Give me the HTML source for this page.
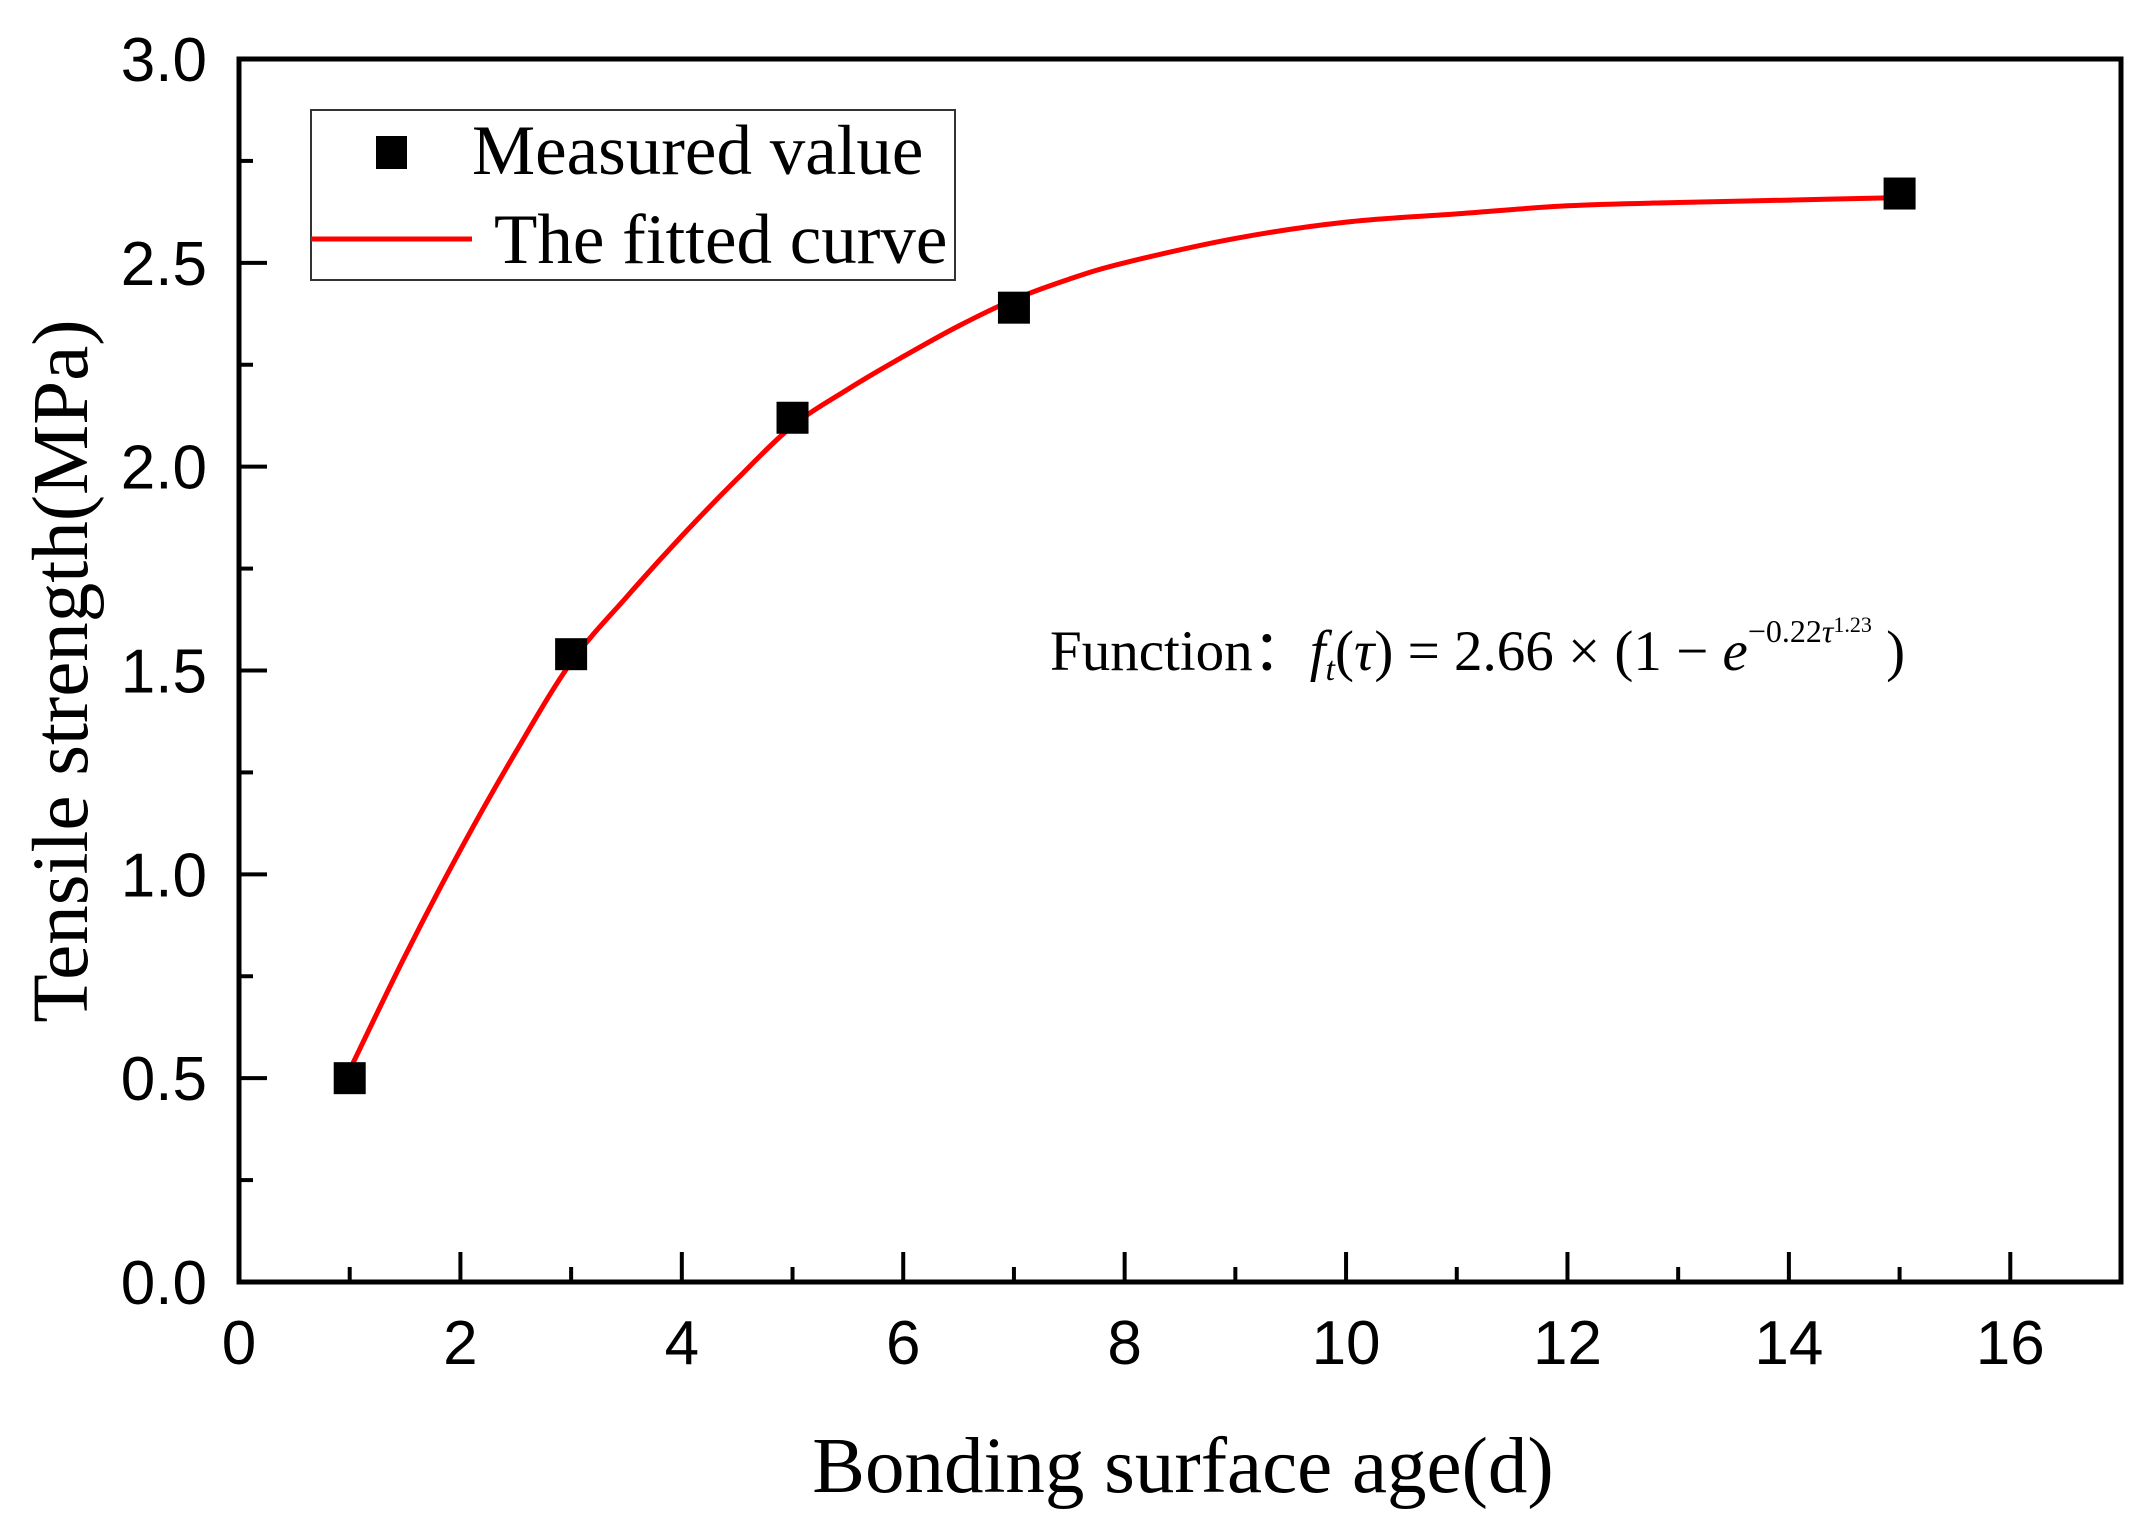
<!DOCTYPE html>
<html><head><meta charset="utf-8"><style>
html,body{margin:0;padding:0;background:#fff;}
svg{display:block;}
</style></head><body>
<svg id="chart" width="2152" height="1528" viewBox="0 0 2152 1528" xmlns="http://www.w3.org/2000/svg">
<g id="plot"></g>
</svg>
<script>
const measuredX = [1, 3, 5, 7, 15];
const measuredY = [0.50, 1.54, 2.12, 2.39, 2.67];
const curveX = [1, 1.5, 2, 2.5, 3, 3.5, 4, 4.5, 5, 5.5, 6, 6.5, 7, 7.5, 8, 9, 10, 11, 12, 13, 14, 15];
const curveY = [0.52, 0.80, 1.06, 1.30, 1.52, 1.68, 1.83, 1.97, 2.10, 2.19, 2.27, 2.345, 2.41, 2.46, 2.50, 2.56, 2.60, 2.62, 2.64, 2.648, 2.654, 2.66];
const xTicks = [0, 2, 4, 6, 8, 10, 12, 14, 16];
const xTickLabels = ["0", "2", "4", "6", "8", "10", "12", "14", "16"];
const yTicks = [0, 0.5, 1.0, 1.5, 2.0, 2.5, 3.0];
const yTickLabels = ["0.0", "0.5", "1.0", "1.5", "2.0", "2.5", "3.0"];

const L = 239, R = 2121, T = 59, B = 1282;
const xMin = 0, xMax = 17, yMin = 0, yMax = 3;
const sx = v => L + (v - xMin) / (xMax - xMin) * (R - L);
const sy = v => B - (v - yMin) / (yMax - yMin) * (B - T);
const NS = "http://www.w3.org/2000/svg";
const g = document.getElementById('plot');
function mk(tag, attrs, parent) {
  const e = document.createElementNS(NS, tag);
  for (const k in attrs) e.setAttribute(k, attrs[k]);
  (parent || g).appendChild(e);
  return e;
}

const frame = mk('rect', {x: L, y: T, width: R - L, height: B - T, fill: 'none', stroke: '#000', 'stroke-width': 5});



for (let v = 1; v <= 16; v++) {
  const major = v % 2 === 0;
  const t = mk('line', {x1: sx(v), x2: sx(v), y1: B, y2: B - (major ? 30 : 15), stroke: '#000', 'stroke-width': 4});
  
  
}
xTicks.forEach((v, i) => {
  const t = mk('text', {x: sx(v), y: 1364, 'text-anchor': 'middle', 'font-family': 'Liberation Sans, sans-serif', 'font-size': 62, fill: '#000'});
  t.textContent = xTickLabels[i];
  
  
});
for (let k = 1; k < 12; k++) {
  const v = k * 0.25;
  const major = k % 2 === 0;
  const t = mk('line', {x1: L, x2: L + (major ? 28 : 14), y1: sy(v), y2: sy(v), stroke: '#000', 'stroke-width': 4});
  
  
}
yTicks.forEach((v, i) => {
  const t = mk('text', {x: 207, y: sy(v) + 22, 'text-anchor': 'end', 'font-family': 'Liberation Sans, sans-serif', 'font-size': 62, fill: '#000'});
  t.textContent = yTickLabels[i];
  
  
});

// smooth curve (Catmull-Rom)
const P = curveX.map((x, i) => [sx(x), sy(curveY[i])]);
let d = 'M' + P[0][0].toFixed(1) + ',' + P[0][1].toFixed(1);
for (let i = 0; i < P.length - 1; i++) {
  const p0 = P[Math.max(0, i - 1)], p1 = P[i], p2 = P[i + 1], p3 = P[Math.min(P.length - 1, i + 2)];
  const c1 = [p1[0] + (p2[0] - p0[0]) / 6, p1[1] + (p2[1] - p0[1]) / 6];
  const c2 = [p2[0] - (p3[0] - p1[0]) / 6, p2[1] - (p3[1] - p1[1]) / 6];
  d += ' C' + c1.map(n => n.toFixed(1)).join(',') + ' ' + c2.map(n => n.toFixed(1)).join(',') + ' ' + p2.map(n => n.toFixed(1)).join(',');
}
const curve = mk('path', {d: d, fill: 'none', stroke: '#ff0000', 'stroke-width': 5, 'stroke-linejoin': 'round'});



measuredX.forEach((x, i) => {
  const m = mk('rect', {x: sx(x) - 16, y: sy(measuredY[i]) - 16, width: 32, height: 32, fill: '#000'});
  
  
});

const lg = mk('g', {});


mk('rect', {x: 311, y: 110, width: 644, height: 170, fill: '#fff', stroke: '#333', 'stroke-width': 2}, lg);
mk('rect', {x: 376, y: 136, width: 31, height: 33, fill: '#000'}, lg);
mk('line', {x1: 311, x2: 472, y1: 239, y2: 239, stroke: '#ff0000', 'stroke-width': 5}, lg);
const l1 = mk('text', {x: 472, y: 174, 'font-family': 'Liberation Serif, serif', 'font-size': 71, fill: '#000'}, lg);
l1.textContent = 'Measured value';


const l2 = mk('text', {x: 494, y: 263, 'font-family': 'Liberation Serif, serif', 'font-size': 71, fill: '#000'}, lg);
l2.textContent = 'The fitted curve';



const fn = mk('text', {x: 1050, y: 670, 'font-family': 'Liberation Serif, serif', 'font-size': 57, fill: '#000'});


fn.innerHTML = 'Function：<tspan font-style="italic">f</tspan><tspan font-style="italic" font-size="34" dy="10">t</tspan><tspan dy="-10">(</tspan><tspan font-style="italic">τ</tspan>) = 2.66 × (1 − <tspan font-style="italic">e</tspan><tspan font-size="32" dy="-28">−0.22<tspan font-style="italic">τ</tspan></tspan><tspan font-size="22" dy="-10">1.23</tspan><tspan dy="38">  )</tspan>';

const xt = mk('text', {x: 1183, y: 1492, 'text-anchor': 'middle', 'font-family': 'Liberation Serif, serif', 'font-size': 79, fill: '#000'});
xt.textContent = 'Bonding surface age(d)';


const yt = mk('text', {x: 0, y: 0, 'text-anchor': 'middle', 'font-family': 'Liberation Serif, serif', 'font-size': 79, fill: '#000', transform: 'translate(87,671) rotate(-90)'});
yt.textContent = 'Tensile strength(MPa)';


</script>
</body></html>
